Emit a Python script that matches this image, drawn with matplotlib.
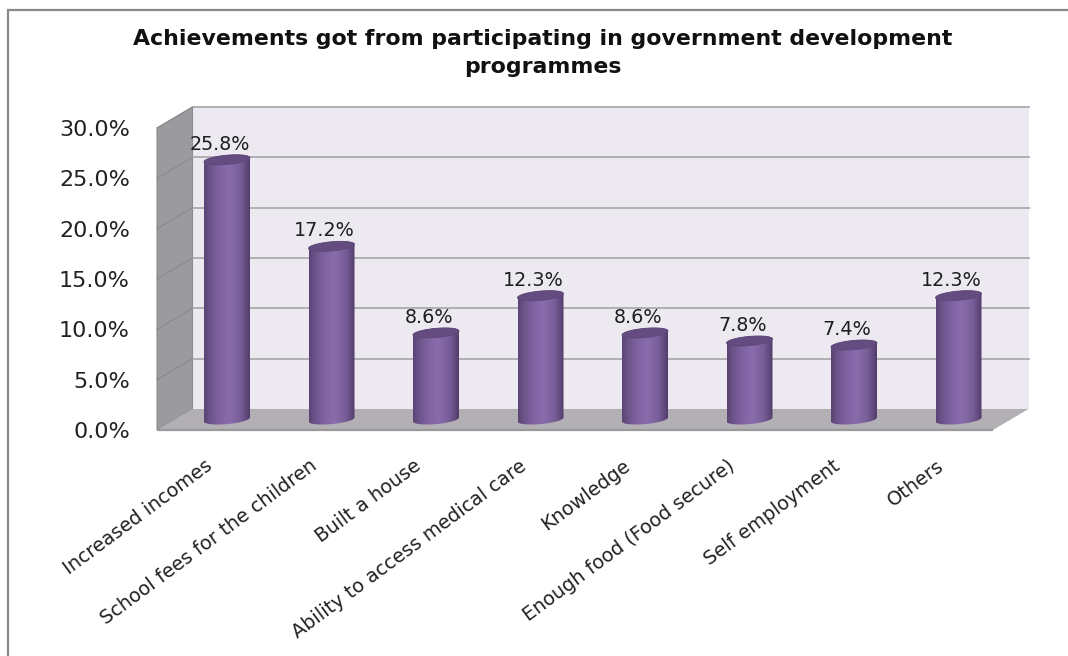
import numpy as np
import matplotlib
matplotlib.use("Agg")
import matplotlib.pyplot as plt
from matplotlib.colors import LinearSegmentedColormap
from matplotlib.patches import Polygon, PathPatch, Rectangle
from matplotlib.path import Path
from matplotlib.transforms import ScaledTranslation

categories = ["Increased incomes", "School fees for the children", "Built a house",
              "Ability to access medical care", "Knowledge", "Enough food (Food secure)",
              "Self employment", "Others"]
values = [25.8, 17.2, 8.6, 12.3, 8.6, 7.8, 7.4, 12.3]
y_ticks = [0, 5, 10, 15, 20, 25, 30]
title = "Achievements got from participating in government development\nprogrammes"

W, H = 1068, 656
fig = plt.figure(figsize=(W / 100, H / 100), dpi=100, facecolor="white")
plt.rcParams["font.family"] = "DejaVu Sans"

# Front plane of the 3D box, in figure pixels
L, R, T, B = 157, 993, 128, 430
ax = fig.add_axes([L / W, 1 - B / H, (R - L) / W, (B - T) / H])
ax.set_xlim(-0.5, 7.5)
ax.set_ylim(0, 30)
ax.patch.set_visible(False)
for s in ax.spines.values():
    s.set_visible(False)

ux = (R - L) / 8          # pixels per category
uy = (B - T) / 30         # pixels per percent
dx, dy = 35.5 / ux, 21 / uy   # box depth in data units
x0, x1 = -0.5, 7.5

# Back wall, side wall and floor
ax.add_patch(Polygon([(x0 + dx, dy), (x1 + dx, dy), (x1 + dx, 30 + dy), (x0 + dx, 30 + dy)],
                     fc="#ECEAF0", ec="none", clip_on=False, zorder=1))
ax.add_patch(Polygon([(x0, 0), (x0 + dx, dy), (x0 + dx, 30 + dy), (x0, 30)],
                     fc="#9B9A9E", ec="#8C8C8C", lw=0.8, clip_on=False, zorder=1))
ax.add_patch(Polygon([(x0, 0), (x1, 0), (x1 + dx, dy), (x0 + dx, dy)],
                     fc="#B2B0B4", ec="none", clip_on=False, zorder=1))
ax.plot([x0, x1], [0, 0], color="#9A9A9A", lw=1.6, clip_on=False, zorder=2,
        solid_capstyle="butt")

# Gridlines run along the back wall and down the side wall
for t in y_ticks:
    if t > 0:
        ax.plot([x0 + dx, x1 + dx], [t + dy, t + dy], color="#ABABAD", lw=1.3,
                clip_on=False, zorder=2)
        ax.plot([x0, x0 + dx], [t, t + dy], color="#88888B", lw=0.7,
                clip_on=False, zorder=2)

# Cylinders stand halfway along the depth of the box
cyl = LinearSegmentedColormap.from_list(
    "cyl", [(0, "#5A4374"), (0.10, "#6A5085"), (0.30, "#7D619F"), (0.55, "#8A6CAC"),
            (0.80, "#785E98"), (0.94, "#5E4779"), (1, "#4F3B68")])
grad = np.linspace(0, 1, 256)[None, :]
half_w = 23 / ux
rx, ry, tilt = half_w, 4.6 / uy, 2.0 / uy


def ellipse_pts(cx, cy, t):
    return np.column_stack([cx + rx * np.cos(t), cy + ry * np.sin(t) + tilt * np.cos(t)])


for i, v in enumerate(values):
    cx = i + dx / 2
    base = dy / 2
    top = v + base
    # body outline: lower half of the base ellipse, then back over the top rim
    lower = ellipse_pts(cx, base, np.linspace(np.pi, 2 * np.pi, 40))
    upper = ellipse_pts(cx, top, np.linspace(0, np.pi, 40))
    pts = np.vstack([lower, upper, lower[:1]])
    clip = PathPatch(Path(pts), transform=ax.transData, fc="none", ec="none")
    ax.add_patch(clip)
    im = ax.imshow(grad, cmap=cyl, aspect="auto", zorder=3, interpolation="bilinear",
                   extent=[cx - rx, cx + rx, base - 1, top + 1])
    im.set_clip_path(clip)
    # darker cap
    cap = ellipse_pts(cx, top, np.linspace(0, 2 * np.pi, 80))
    ax.add_patch(Polygon(cap, fc="#654C80", ec="#5E4779", lw=0.6, zorder=4, clip_on=False))
    # value labels sit slightly left of each cylinder's axis
    ax.text(cx - 7 / ux, top + 0.6, f"{v:.1f}%", ha="center", va="bottom", fontsize=13.8,
            color="#1E1E1E", zorder=5, clip_on=False)

ax.set_xlim(-0.5, 7.5)
ax.set_ylim(0, 30)

ax.set_yticks(y_ticks)
ax.set_yticklabels([f"{t:.1f}%" for t in y_ticks], fontsize=16, color="#222222")
ax.set_xticks(range(len(categories)))
ax.set_xticklabels(categories, rotation=36.5, ha="right", rotation_mode="anchor",
                   fontsize=13.9, color="#222222")
ax.tick_params(axis="y", length=0, pad=19.5)
ax.tick_params(axis="x", length=0, pad=19)
# Pull the slanted category labels a little to the left of their ticks
nudge = ScaledTranslation(-4.5 / 100, 0, fig.dpi_scale_trans)
for lab in ax.get_xticklabels():
    lab.set_transform(lab.get_transform() + nudge)

fig.text(543 / W, 1 - 53 / H, title, ha="center", va="center", fontsize=15.8,
         fontweight="bold", color="#111111", linespacing=1.55)

# Outer chart frame
fig.add_artist(Rectangle((8 / W, -0.01), 1.1, 1 - 10 / H + 0.01, transform=fig.transFigure,
                         fc="none", ec="#8A8A8A", lw=1.6))

fig.savefig("out.png", dpi=100)
